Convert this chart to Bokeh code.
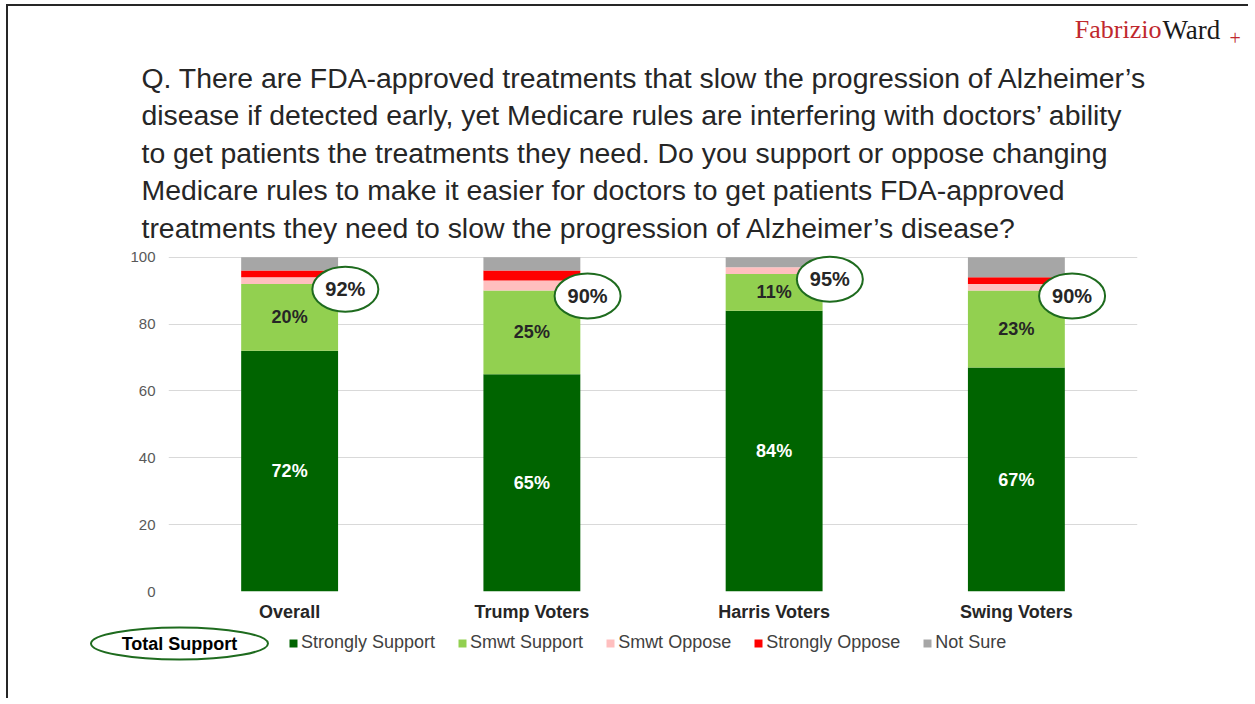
import numpy as np
from bokeh.plotting import figure
from bokeh.layouts import column
from bokeh.models import (ColumnDataSource, FactorRange, Range1d, Legend, LegendItem, FixedTicker)
from bokeh.transform import dodge
from bokeh.core.properties import value
from bokeh.embed import file_html
from bokeh.resources import INLINE

# ---------------- data ----------------
categories = ["Overall", "Trump Voters", "Harris Voters", "Swing Voters"]
series_names = ["Strongly Support", "Smwt Support", "Smwt Oppose", "Strongly Oppose", "Not Sure"]
strongly_support = [72, 65, 84, 67]
smwt_support = [20, 25, 11, 23]
smwt_oppose = [2, 3, 2, 2]
strongly_oppose = [2, 3, 0, 2]
not_sure = [4, 4, 3, 6]
total_support = [92, 90, 95, 90]
y_ticks = [0, 20, 40, 60, 80, 100]
question_lines = [
    "Q. There are FDA-approved treatments that slow the progression of Alzheimer\u2019s",
    "disease if detected early, yet Medicare rules are interfering with doctors\u2019 ability",
    "to get patients the treatments they need. Do you support or oppose changing",
    "Medicare rules to make it easier for doctors to get patients FDA-approved",
    "treatments they need to slow the progression of Alzheimer\u2019s disease?",
]
legend_callout = "Total Support"

# ---------------- style ----------------
colors = ["#006400", "#92D050", "#FFBFBF", "#FF0000", "#A6A6A6"]
oval_green = "#1E6B1E"
FONT = "Liberation Sans"
SERIF = "Liberation Serif"
W = 1240
OX, OY = 8, 6          # page offset of the content (after css margin + border)
MAIN_TOP = 246         # page y where the chart canvas starts
MAIN_BORDER_TOP = 4


def blank(fig):
    fig.xaxis.visible = False
    fig.yaxis.visible = False
    fig.xgrid.visible = False
    fig.ygrid.visible = False
    fig.outline_line_color = None
    return fig


# ---------------- header (question + logo) ----------------
TOP_H = MAIN_TOP - OY
top = blank(figure(width=W, height=TOP_H, x_range=Range1d(OX, OX + W), y_range=Range1d(OY + TOP_H, OY),
                   min_border=0, frame_align=False, output_backend="svg", toolbar_location=None))
qsrc = ColumnDataSource(dict(x=[141] * len(question_lines),
                             y=[77 + 37.5 * i for i in range(len(question_lines))],
                             t=question_lines))
top.text(x="x", y="y", text="t", source=qsrc, text_font=value(FONT), text_font_size="28.4px",
         text_color="#262626", text_align="left", text_baseline="middle")
top.text(x=[1161], y=[29], text=["Fabrizio"], text_font=value(SERIF), text_font_size="26px",
         text_color="#C0282D", text_align="right", text_baseline="middle")
top.text(x=[1162], y=[29], text=["Ward"], text_font=value(SERIF), text_font_size="27px",
         text_color="#1A1A1A", text_align="left", text_baseline="middle")
top.text(x=[1229], y=[37], text=["+"], text_font=value(SERIF), text_font_size="20px",
         text_color="#C0282D", text_align="left", text_baseline="middle")

# ---------------- main chart ----------------
keys = ["ss", "sws", "swo", "so", "ns"]
src = ColumnDataSource(dict(
    cat=categories,
    ss=strongly_support, sws=smwt_support, swo=smwt_oppose, so=strongly_oppose, ns=not_sure,
    ss_mid=[v / 2 for v in strongly_support],
    sws_mid=[a + b / 2 for a, b in zip(strongly_support, smwt_support)],
    ss_lab=[f"{v}%" for v in strongly_support],
    sws_lab=[f"{v}%" for v in smwt_support],
    tot=[t - 1.6 for t in total_support],
    tot_lab=[f"{v}%" for v in total_support],
))

p = figure(x_range=FactorRange(*categories), y_range=Range1d(0, 102),
           frame_width=969, frame_height=341, frame_align=False,
           min_border_left=160, min_border_right=W - 160 - 969, min_border_top=MAIN_BORDER_TOP,
           min_border_bottom=34,
           output_backend="svg", toolbar_location=None, title=None)
p.outline_line_color = None

renderers = p.vbar_stack(keys, x="cat", width=0.4, color=colors, line_color=None, source=src)

p.text(x="cat", y="ss_mid", text="ss_lab", source=src, text_align="center", text_baseline="middle",
       text_font=value(FONT), text_font_style="bold", text_font_size="18px", text_color="white")
p.text(x="cat", y="sws_mid", text="sws_lab", source=src, text_align="center", text_baseline="middle",
       text_font=value(FONT), text_font_style="bold", text_font_size="18px", text_color="#262626")

p.ellipse(x=dodge("cat", 0.23, range=p.x_range), y="tot", width=66, height=45,
          width_units="screen", height_units="screen", source=src,
          fill_color="white", line_color=oval_green, line_width=2)
p.text(x=dodge("cat", 0.23, range=p.x_range), y="tot", text="tot_lab", source=src,
       text_align="center", text_baseline="middle", text_font=value(FONT),
       text_font_style="bold", text_font_size="20px", text_color="#262626")

p.yaxis.ticker = FixedTicker(ticks=y_ticks)
p.ygrid.ticker = FixedTicker(ticks=y_ticks)
p.ygrid.grid_line_color = "#D9D9D9"
p.xgrid.grid_line_color = None
for ax in (p.xaxis[0], p.yaxis[0]):
    ax.axis_line_color = None
    ax.major_tick_line_color = None
    ax.minor_tick_line_color = None
    ax.major_tick_in = 0
    ax.major_tick_out = 0
    ax.major_label_text_font = FONT
p.yaxis.major_label_text_font_size = "15px"
p.yaxis.major_label_text_color = "#595959"
p.yaxis.major_label_standoff = 13
p.xaxis.major_label_text_font_size = "18px"
p.xaxis.major_label_text_font_style = "bold"
p.xaxis.major_label_text_color = "#262626"
p.xaxis.major_label_standoff = 10

# ---------------- legend row ----------------
BOT_Y0 = MAIN_TOP + MAIN_BORDER_TOP + 341 + 34
BOT_H = 698 - BOT_Y0
bot = blank(figure(width=W, height=BOT_H, x_range=Range1d(OX, OX + W), y_range=Range1d(BOT_Y0 + BOT_H, BOT_Y0),
                   min_border=0, frame_align=False, output_backend="svg", toolbar_location=None))
bot.ellipse(x=[179], y=[643], width=177, height=32, fill_color=None, line_color=oval_green, line_width=2)
bot.text(x=[179], y=[643], text=[legend_callout], text_font=value(FONT), text_font_size="18px",
         text_font_style="bold", text_color="#000000", text_align="center", text_baseline="middle")
swatches = [bot.vbar(x=[float("nan")], top=[float("nan")], width=1, fill_color=c, line_color=None)
            for c in colors]
legend = Legend(items=[LegendItem(label=n, renderers=[r]) for n, r in zip(series_names, swatches)],
                location=(288 - OX, (BOT_Y0 + BOT_H) - 643 - 10), orientation="horizontal",
                glyph_width=10, glyph_height=10, label_standoff=3, spacing=22,
                padding=0, margin=0, border_line_color=None, background_fill_alpha=0,
                label_text_font=FONT, label_text_font_size="18px", label_text_color="#404040",
                label_height=20)
bot.add_layout(legend)

layout = column(top, p, bot, spacing=0,
                styles={"border-left": "2px solid #262626", "border-top": "2px solid #262626",
                        "margin-left": "6px", "margin-top": "4px"})

open("out.html", "w").write(file_html(layout, INLINE))
